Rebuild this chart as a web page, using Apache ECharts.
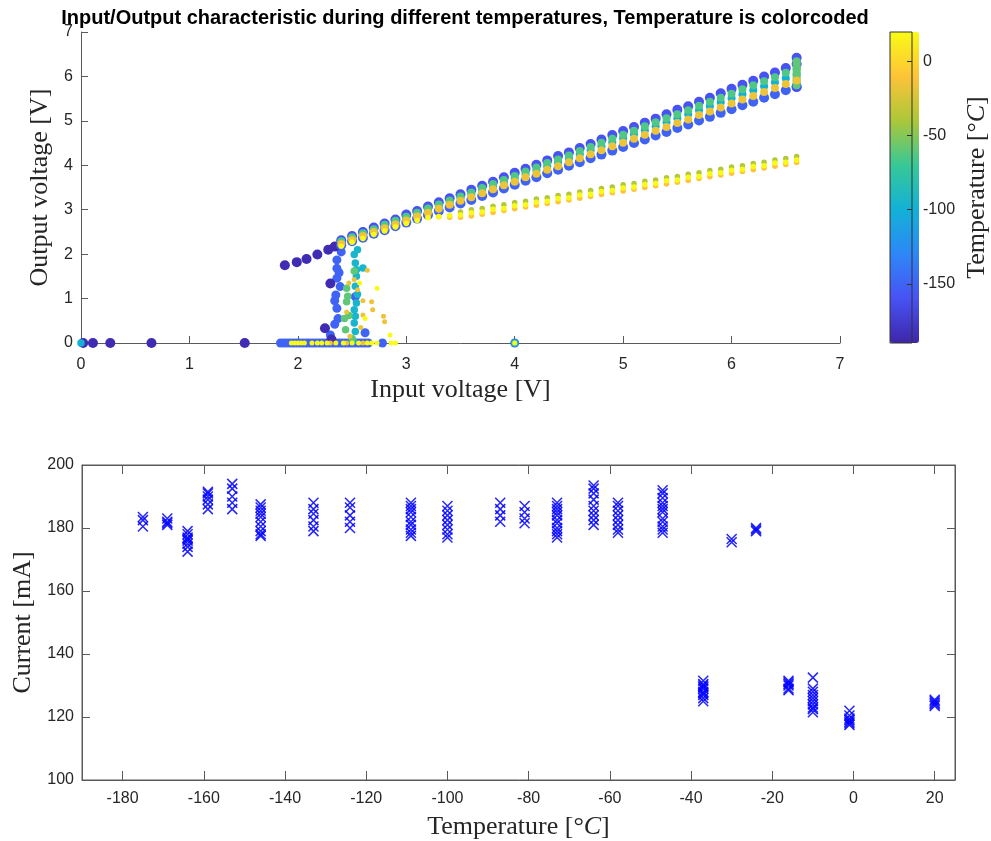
<!DOCTYPE html>
<html><head><meta charset="utf-8">
<script src="https://cdn.jsdelivr.net/npm/echarts@6/dist/echarts.min.js"></script>
<style>html,body{margin:0;padding:0;background:#fff}#c{width:991px;height:841px}</style>
</head><body><div id="c"></div>
<script>
// ---------- Top plot: input / output characteristic ----------
const bandVin = [2.4,2.5,2.6,2.7,2.8,2.9,3.0,3.1,3.2,3.3,3.4,3.5,3.6,3.7,3.8,3.9,4.0,4.1,4.2,4.3,4.4,4.5,4.6,4.7,4.8,4.9,5.0,5.1,5.2,5.3,5.4,5.5,5.6,5.7,5.8,5.9,6.0,6.1,6.2,6.3,6.4,6.5,6.6];
const voutM160 = [2.31,2.41,2.50,2.60,2.69,2.78,2.89,2.97,3.07,3.17,3.26,3.35,3.45,3.54,3.63,3.73,3.83,3.92,4.01,4.11,4.21,4.29,4.39,4.48,4.58,4.68,4.77,4.86,4.96,5.05,5.15,5.25,5.33,5.43,5.52,5.62,5.72,5.81,5.90,6.00,6.09,6.19,6.28];
const voutM150 = [2.20,2.29,2.37,2.46,2.54,2.63,2.71,2.80,2.88,2.97,3.05,3.14,3.22,3.31,3.39,3.48,3.56,3.65,3.73,3.82,3.90,3.99,4.07,4.16,4.24,4.33,4.41,4.50,4.58,4.67,4.75,4.84,4.92,5.01,5.09,5.18,5.26,5.35,5.43,5.52,5.60,5.69,5.77];
const voutM100 = [2.26,2.35,2.44,2.53,2.62,2.71,2.80,2.89,2.98,3.07,3.17,3.26,3.34,3.44,3.52,3.62,3.70,3.80,3.88,3.98,4.06,4.15,4.25,4.34,4.43,4.52,4.61,4.70,4.79,4.88,4.97,5.06,5.15,5.24,5.33,5.42,5.51,5.60,5.69,5.78,5.87,5.96,6.05];
const voutM64 = [2.29,2.38,2.47,2.56,2.66,2.75,2.84,2.93,3.03,3.12,3.21,3.30,3.39,3.49,3.58,3.67,3.76,3.86,3.95,4.05,4.13,4.22,4.32,4.41,4.51,4.60,4.69,4.78,4.88,4.97,5.06,5.15,5.24,5.34,5.43,5.52,5.61,5.71,5.80,5.89,5.98,6.08,6.17];
const voutM16 = [2.23,2.32,2.41,2.50,2.58,2.67,2.76,2.85,2.93,3.02,3.11,3.20,3.28,3.37,3.46,3.55,3.63,3.73,3.81,3.90,3.98,4.07,4.16,4.25,4.34,4.43,4.51,4.60,4.69,4.78,4.86,4.95,5.03,5.13,5.21,5.30,5.39,5.48,5.56,5.65,5.74,5.83,5.91];
const voutP20 = [2.18,2.27,2.35,2.44,2.52,2.61,2.69,2.76,2.82,2.85,2.87,2.88,2.93,2.95,3.01,3.03,3.09,3.11,3.17,3.19,3.25,3.27,3.33,3.35,3.41,3.43,3.49,3.51,3.57,3.59,3.65,3.67,3.73,3.75,3.81,3.83,3.89,3.91,3.97,3.99,4.05,4.07,4.12];
const voutM10 = [2.20,2.29,2.37,2.46,2.54,2.63,2.71,2.79,2.85,2.84,2.83,2.83,2.86,2.90,2.94,2.98,3.02,3.06,3.10,3.14,3.18,3.22,3.26,3.30,3.34,3.38,3.42,3.46,3.50,3.54,3.58,3.62,3.66,3.70,3.74,3.78,3.82,3.86,3.90,3.94,3.98,4.02,4.06];
const voutM37 = [null,null,null,null,null,null,null,null,null,null,null,2.95,3.00,3.03,3.08,3.11,3.16,3.19,3.24,3.27,3.32,3.35,3.40,3.43,3.48,3.51,3.56,3.59,3.64,3.67,3.72,3.75,3.80,3.83,3.88,3.91,3.96,3.99,4.04,4.07,4.12,4.15,4.20];
const spikeVout = [5.80,5.86,5.92,5.98,6.04,6.10,6.16,6.22,6.28,6.34];
const spikeTopVout = [6.42,5.76];

// low-voltage region points
const darkVin  = [0.02,0.11,0.27,0.65,1.51,1.88,1.99,2.08,2.18,2.28,2.34,2.25,2.30,2.31];
const darkVout = [0,0,0,0,0,1.75,1.82,1.89,1.99,2.10,2.17,0.33,1.34,0.08];
const originVin = [0]; const originVout = [0];
const zeroBlueVin = [1.84,1.87,1.90,1.93,1.96,1.99,2.02,2.05,2.08,2.11,2.14,2.17,2.20,2.23,2.26,2.29,2.32,2.35,2.38,2.41,2.44,2.47,2.50,2.53,2.56,2.59,2.62,2.65,2.78,4.0];
const colBlueVin  = [2.36,2.36,2.36,2.39,2.35,2.53,2.36,2.37,2.62,2.30,2.34,2.38,2.34,2.40];
const colBlueVout = [1.87,1.68,1.46,1.27,1.08,1.04,0.78,0.55,0.23,0.18,0.42,1.58,0.95,2.05];
const colCyanVin  = [2.52,2.53,2.54,2.53,2.54,2.53,2.52,2.53,2.60,2.55,2.52,2.55,2.54,2.51,4.0];
const colCyanVout = [1.99,1.80,1.50,1.28,0.90,0.60,0.45,0.26,1.69,1.10,0.75,2.10,1.65,0.05,0];
const colGreenVin  = [2.45,2.45,2.43,2.47,2.44,2.52,2.50,2.46];
const colGreenVout = [1.23,0.93,0.55,0.62,0.30,1.62,0.10,1.05];
const colOrangeVin  = [2.64,2.68,2.69,2.60,2.79,2.80,2.52,2.55,2.60,2.45,2.58,2.48,2.30,2.45,2.60,2.47];
const colOrangeVout = [1.64,0.93,0.75,0.63,0.60,0.48,1.43,1.20,0.95,0.70,0.35,0.15,0,0,0,1.35];
const colYellowVin  = [2.73,2.85,2.62,2.57,1.94,1.97,2.00,2.03,2.06,2.13,2.18,2.22,2.27,2.35,2.42,2.50,2.56,2.64,2.68,2.73,2.86,2.90,4.0];
const colYellowVout = [1.23,0.18,0.55,1.35,0,0,0,0,0,0,0,0,0,0,0,0,0,0,0,0,0,0,0];

// ---------- Bottom plot: current vs temperature ----------
const curTemps = [-175,-169,-164,-159,-153,-146,-133,-124,-109,-100,-87,-81,-73,-64,-58,-47,-37,-30,-24,-16,-10,-1,20];
const curValues = [
  [183.5,182.5,180.5],
  [183,182,181.5,181],
  [179,178,177,176.5,176,175,174,172.5],
  [191.5,191,190,189,187.5,186],
  [194,192.5,190,188,186],
  [187.5,186.5,185.5,184.5,183.5,182,180.5,179,178,177.5],
  [188,186,184.5,182.5,180.5,179],
  [188,186.5,184,182,180],
  [188,187,186,185,183.5,182,181,179.5,178.5,177.5],
  [187,185.5,184,182.5,181,179.5,178,177],
  [188,186,184,182],
  [187,185,183,181.5],
  [188,187,186,185,184,182.5,181.5,180,179,178,177],
  [193.5,192.5,191,189,187,185.5,184,182.5,181],
  [188,187,185.5,184,182.5,181,179.5,178.5],
  [192,191,189.5,188,187,186,185,183,182,180.5,179.5,178.5],
  [131.5,130.5,130,129.5,129,128,127.5,127,126,125],
  [176.5,175.5],
  [180,179.5,179],
  [131.5,131,130.5,130,129,128.5],
  [132.5,129,128,127,126,125,124,123,122.5,121.5],
  [122,120.5,119.5,119,118.5,118,117.5],
  [125.5,125,124.5,124,123.5]
];

const cbTicks = [-150,-100,-50,0];
const xTicksBottom = [-180,-160,-140,-120,-100,-80,-60,-40,-20,0,20];

// ---------- build ----------
function pts(vin, vout, temp) {
  const out = [];
  for (let i = 0; i < vin.length; i++) if (vout[i] != null) out.push([vin[i], vout[i], temp]);
  return out;
}
const lowData = [].concat(
  pts(zeroBlueVin, zeroBlueVin.map(() => 0), -150),
  pts(colBlueVin, colBlueVout, -150),
  pts(darkVin, darkVout, -186),
  pts(originVin, originVout, -100),
  pts(colCyanVin, colCyanVout, -95),
  pts(colGreenVin, colGreenVout, -60),
  pts(colOrangeVin, colOrangeVout, -16),
  pts(colYellowVin, colYellowVout, 20)
);
const coldBand = [].concat(pts(bandVin, voutM150, -150), pts(bandVin, voutM160, -160),
  pts([6.6,6.6], spikeTopVout, -160));
const midBand = [].concat(pts(bandVin, voutM100, -100), pts(bandVin, voutM64, -64),
  pts(spikeVout.map(() => 6.6), spikeVout, -60));
const warmBand = pts(bandVin, voutM16, -16);
const branch = [].concat(pts(bandVin, voutM37, -37), pts(bandVin, voutM10, -10), pts(bandVin, voutP20, 20));
const curData = [];
curTemps.forEach((t, i) => curValues[i].forEach(v => curData.push([t, v])));

const parula = ['#3e26a8','#4852f4','#2e87f7','#12b1d6','#37c897','#abc739','#fec338','#f9fb15'];
const AX = '#5a5a5a', TX = '#262626';
const sans = 'Liberation Sans, Arial, sans-serif';
const serif = 'Liberation Serif, Times New Roman, serif';
const lbl = {color: TX, fontSize: 16, fontFamily: sans};
const nameStyle = {color: TX, fontSize: 26, fontFamily: serif,
  rich: {i: {fontStyle: 'italic', fontSize: 26, fontFamily: serif, color: TX}}};
const solid = {opacity: 1};

const chart = echarts.init(document.getElementById('c'));
chart.setOption({
  animation: false,
  backgroundColor: '#fff',
  title: {text: 'Input/Output characteristic during different temperatures, Temperature is colorcoded',
    left: 460, top: 3, textAlign: 'center',
    textStyle: {fontFamily: sans, fontWeight: 'bold', fontSize: 20, color: '#000'}},
  grid: [
    {left: 81, right: 151, top: 32, bottom: 498},
    {left: 82, right: 36, top: 465, bottom: 61, show: true, borderColor: AX, borderWidth: 1},
    {left: 890, width: 29, top: 32, height: 311, show: true, borderColor: '#333', borderWidth: 1, z: 10}
  ],
  xAxis: [
    {gridIndex: 0, type: 'value', min: 0, max: 7, interval: 1,
      axisLine: {onZero: false, lineStyle: {color: AX}}, axisTick: {inside: true, length: 7, lineStyle: {color: AX}},
      axisLabel: Object.assign({margin: 14}, lbl), splitLine: {show: false},
      name: 'Input voltage [V]', nameLocation: 'middle', nameGap: 34, nameTextStyle: nameStyle},
    {gridIndex: 1, type: 'value', min: -190, max: 25,
      axisLine: {onZero: false, lineStyle: {color: AX}},
      axisTick: {inside: true, length: 9, customValues: xTicksBottom, lineStyle: {color: AX}},
      axisLabel: Object.assign({margin: 11, customValues: xTicksBottom}, lbl), splitLine: {show: false},
      name: 'Temperature [°{i|C}]', nameLocation: 'middle', nameGap: 34, nameTextStyle: nameStyle},
    {gridIndex: 1, type: 'value', position: 'top', min: -190, max: 25,
      axisLine: {onZero: false, lineStyle: {color: AX}},
      axisTick: {inside: true, length: 9, customValues: xTicksBottom, lineStyle: {color: AX}},
      axisLabel: {show: false}, splitLine: {show: false}},
    {gridIndex: 2, type: 'value', min: 0, max: 1, show: false}
  ],
  yAxis: [
    {gridIndex: 0, type: 'value', min: 0, max: 7, interval: 1,
      axisLine: {show: true, onZero: false, lineStyle: {color: AX}}, axisTick: {show: true, inside: true, length: 7, lineStyle: {color: AX}},
      axisLabel: Object.assign({margin: 8}, lbl), splitLine: {show: false},
      name: 'Output voltage [V]', nameLocation: 'middle', nameGap: 27, nameRotate: 90, nameTextStyle: nameStyle},
    {gridIndex: 1, type: 'value', min: 100, max: 200, interval: 20,
      axisLine: {show: true, onZero: false, lineStyle: {color: AX}}, axisTick: {show: true, inside: true, length: 8, lineStyle: {color: AX}},
      axisLabel: Object.assign({margin: 8}, lbl), splitLine: {show: false},
      name: 'Current [mA]', nameLocation: 'middle', nameGap: 37, nameRotate: 90, nameTextStyle: nameStyle},
    {gridIndex: 1, type: 'value', position: 'right', min: 100, max: 200, interval: 20,
      axisLine: {show: true, onZero: false, lineStyle: {color: AX}}, axisTick: {show: true, inside: true, length: 8, lineStyle: {color: AX}},
      axisLabel: {show: false}, splitLine: {show: false}},
    {gridIndex: 2, type: 'value', position: 'right', min: -190, max: 20, z: 11,
      axisLine: {show: false, onZero: false},
      axisTick: {show: true, inside: true, length: 5, customValues: cbTicks, lineStyle: {color: '#333'}},
      axisLabel: Object.assign({margin: 11, customValues: cbTicks}, lbl), splitLine: {show: false},
      name: 'Temperature [°{i|C}]', nameLocation: 'middle', nameGap: 52, nameRotate: 90, nameTextStyle: nameStyle}
  ],
  visualMap: {
    type: 'continuous', min: -190, max: 20, dimension: 2, seriesIndex: [0,1,2,3,4],
    inRange: {color: parula}, calculable: false, hoverLink: false,
    left: 890, top: 32, itemWidth: 29, itemHeight: 311, padding: 0, text: null, showLabel: false
  },
  series: [
    {type: 'scatter', xAxisIndex: 0, yAxisIndex: 0, data: lowData, itemStyle: solid,
      symbolSize: v => v[2] <= -180 ? 10 : (v[2] <= -120 ? 9 : (v[2] <= -50 ? 7.5 : 5))},
    {type: 'scatter', xAxisIndex: 0, yAxisIndex: 0, data: coldBand, symbolSize: 10, itemStyle: solid},
    {type: 'scatter', xAxisIndex: 0, yAxisIndex: 0, data: midBand, symbolSize: 8, itemStyle: solid},
    {type: 'scatter', xAxisIndex: 0, yAxisIndex: 0, data: warmBand, symbolSize: 8, itemStyle: solid},
    {type: 'scatter', xAxisIndex: 0, yAxisIndex: 0, data: branch, symbolSize: 5.5, itemStyle: solid},
    {type: 'scatter', xAxisIndex: 1, yAxisIndex: 1, data: curData,
      symbol: 'path://M0 0L10 10M10 0L0 10', symbolSize: 10,
      itemStyle: {color: 'none', borderColor: '#0000ff', borderWidth: 1.5, opacity: 0.85}}
  ]
});
</script></body></html>
